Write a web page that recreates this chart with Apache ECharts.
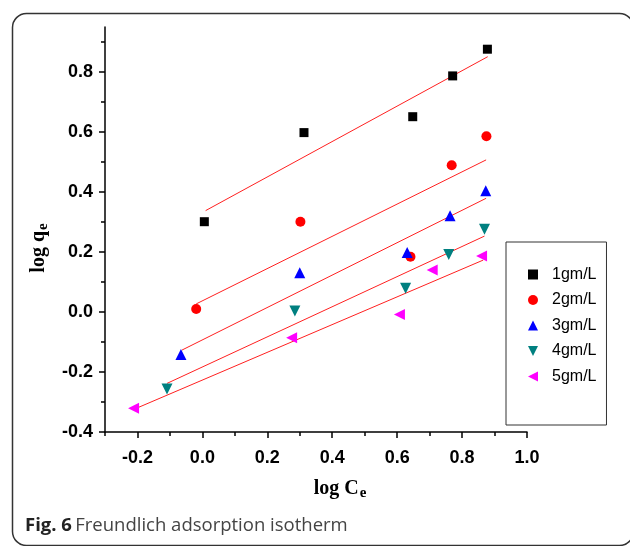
<!DOCTYPE html>
<html>
<head>
<meta charset="utf-8">
<script src="https://cdn.jsdelivr.net/npm/echarts@6/dist/echarts.min.js"></script>
<style>html,body{margin:0;padding:0;background:#fff}#c{width:630px;height:546px}</style>
</head>
<body>
<div id="c"></div>
<script>
var seriesNames = ['1gm/L', '2gm/L', '3gm/L', '4gm/L', '5gm/L'];
var logC1 = [0.006, 0.313, 0.648, 0.771, 0.878];
var logQ1 = [0.301, 0.598, 0.651, 0.787, 0.876];
var logC2 = [-0.019, 0.302, 0.641, 0.768, 0.875];
var logQ2 = [0.010, 0.301, 0.184, 0.489, 0.586];
var logC3 = [-0.066, 0.300, 0.631, 0.763, 0.873];
var logQ3 = [-0.142, 0.131, 0.198, 0.321, 0.404];
var logC4 = [-0.109, 0.285, 0.626, 0.759, 0.869];
var logQ4 = [-0.257, 0.003, 0.079, 0.192, 0.276];
var logC5 = [-0.212, 0.275, 0.607, 0.708, 0.860];
var logQ5 = [-0.321, -0.086, -0.008, 0.140, 0.187];
// fitted line end points
var fitXStart = [0.010, -0.019, -0.063, -0.109, -0.210];
var fitYStart = [0.338, 0.027, -0.127, -0.238, -0.324];
var fitXEnd = [0.879, 0.874, 0.874, 0.869, 0.865];
var fitYEnd = [0.851, 0.507, 0.379, 0.253, 0.173];
var xMajorTicks = [-0.2, 0.0, 0.2, 0.4, 0.6, 0.8, 1.0];
var xMinorTicks = [-0.3, -0.1, 0.1, 0.3, 0.5, 0.7, 0.9];
var yMajorTicks = [-0.4, -0.2, 0.0, 0.2, 0.4, 0.6, 0.8];
var yMinorTicks = [-0.3, -0.1, 0.1, 0.3, 0.5, 0.7, 0.9];

var xs = [logC1, logC2, logC3, logC4, logC5];
var ys = [logQ1, logQ2, logQ3, logQ4, logQ5];
var colors = ['#000000', '#ff0000', '#0000ff', '#008080', '#ff00ff'];
var symbols = ['rect', 'circle', 'triangle', 'triangle', 'triangle'];
var legendIcons = ['rect', 'circle', 'triangle', 'path://M0,0L10,0L5,10Z', 'path://M10,0L10,10L0,5Z'];
var sizes = [9, 10, 11, 11, 11];
var rotates = [0, 0, 0, 180, 90];

var chart = echarts.init(document.getElementById('c'), null, {renderer: 'canvas'});
var series = [];
for (var i = 0; i < 5; i++) {
  series.push({
    type: 'line', xAxisIndex: 0, yAxisIndex: 0, silent: true, showSymbol: false, symbol: 'none',
    data: [[fitXStart[i], fitYStart[i]], [fitXEnd[i], fitYEnd[i]]],
    lineStyle: {color: '#ff2020', width: 1}, z: 2, animation: false
  });
}
for (var j = 0; j < 5; j++) {
  var d = [];
  for (var k = 0; k < xs[j].length; k++) d.push([xs[j][k], ys[j][k]]);
  series.push({
    name: seriesNames[j], type: 'scatter', xAxisIndex: 0, yAxisIndex: 0,
    symbol: symbols[j], symbolSize: sizes[j], symbolRotate: rotates[j],
    itemStyle: {color: colors[j], opacity: 1}, data: d, z: 3, animation: false
  });
}
var legendData = seriesNames.map(function (n, i) { return {name: n, icon: legendIcons[i]}; });
var gridRect = {left: 105, right: 103, top: 27, bottom: 114};
var lab = {fontFamily: 'Liberation Sans', fontWeight: 'bold', fontSize: 18, color: '#000'};
var option = {
  animation: false,
  backgroundColor: '#fff',
  grid: [Object.assign({}, gridRect), Object.assign({}, gridRect)],
  legend: {
    data: legendData, orient: 'vertical', left: 506, top: 242,
    padding: [24.5, 10, 40.5, 22], itemWidth: 10, itemHeight: 10, itemGap: 9.5,
    borderColor: '#333', borderWidth: 1, backgroundColor: '#fff',
    textStyle: {fontFamily: 'Liberation Sans', fontSize: 16, lineHeight: 15, color: '#000', padding: [0, 0, 0, 9]}
  },
  xAxis: [{
    type: 'value', gridIndex: 0, min: -0.3, max: 1.0, position: 'bottom',
    splitLine: {show: false},
    axisLine: {onZero: false, lineStyle: {color: '#000', width: 1.5}},
    axisTick: {show: true, inside: false, length: 6, customValues: xMajorTicks, lineStyle: {color: '#000', width: 1.5}},
    axisLabel: Object.assign({customValues: xMajorTicks, margin: 17, formatter: function (v) { return v.toFixed(1); }}, lab),
    name: '{a|log C}{b|e}', nameLocation: 'middle', nameGap: 44,
    nameTextStyle: {padding: [0, 0, 0, 48], rich: {
      a: {fontFamily: 'Liberation Serif', fontWeight: 'bold', fontSize: 20, color: '#000'},
      b: {fontFamily: 'Liberation Serif', fontWeight: 'bold', fontSize: 15, color: '#000', padding: [10, 0, 0, 1]}
    }}
  }, {
    type: 'value', gridIndex: 1, min: -0.3, max: 1.0, position: 'bottom',
    splitLine: {show: false}, axisLine: {show: false, onZero: false},
    axisTick: {show: true, length: 4, customValues: xMinorTicks, lineStyle: {color: '#000', width: 1.5}},
    axisLabel: {show: false}
  }],
  yAxis: [{
    type: 'value', gridIndex: 0, min: -0.4, max: 0.95, position: 'left',
    splitLine: {show: false},
    axisLine: {onZero: false, lineStyle: {color: '#000', width: 1.5}},
    axisTick: {show: true, inside: false, length: 6, customValues: yMajorTicks, lineStyle: {color: '#000', width: 1.5}},
    axisLabel: Object.assign({customValues: yMajorTicks, margin: 12, formatter: function (v) { return v.toFixed(1); }}, lab),
    name: '{a|log q}{b|e}', nameLocation: 'middle', nameGap: 48,
    nameTextStyle: {padding: [0, 37, 0, 0], rich: {
      a: {fontFamily: 'Liberation Serif', fontWeight: 'bold', fontSize: 20, color: '#000'},
      b: {fontFamily: 'Liberation Serif', fontWeight: 'bold', fontSize: 15, color: '#000', padding: [10, 0, 0, 1]}
    }}
  }, {
    type: 'value', gridIndex: 1, min: -0.4, max: 0.95, position: 'left',
    splitLine: {show: false}, axisLine: {show: false, onZero: false},
    axisTick: {show: true, length: 4, customValues: yMinorTicks, lineStyle: {color: '#000', width: 1.5}},
    axisLabel: {show: false}
  }],
  graphic: [{
    type: 'rect', left: 10, top: 11, z: -1, silent: true,
    shape: {width: 621, height: 532, r: 14},
    style: {fill: 'none', stroke: '#333', lineWidth: 1.5}
  }, {
    type: 'text', left: 25, top: 516, silent: true,
    style: {
      text: '{b|Fig. 6} {r|Freundlich adsorption isotherm}',
      rich: {
        b: {fontFamily: 'Open Sans', fontWeight: 'bold', fontSize: 18.5, fill: '#222'},
        r: {fontFamily: 'Open Sans', fontSize: 18.5, fill: '#444'}
      }
    }
  }],
  series: series
};
chart.setOption(option);
</script>
</body>
</html>
